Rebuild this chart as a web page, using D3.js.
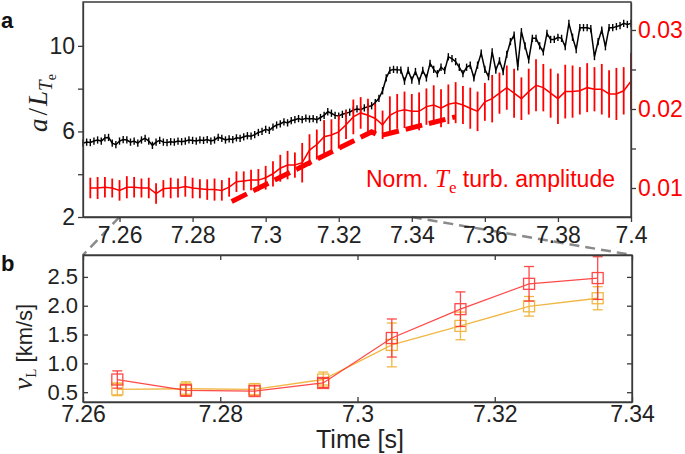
<!DOCTYPE html>
<html><head><meta charset="utf-8">
<script src="https://cdn.jsdelivr.net/npm/d3@7"></script>
<style>body{margin:0;background:#fff}svg{display:block}</style>
</head><body>
<svg id="c" width="685" height="454"></svg>
<script>
// ---------- data ----------
// panel a: black a/L_Te sampled every 1 ms from 7.250 s
const blackStart = 7.250, blackStep = 0.001;
const blackVals = [5.45,5.5,5.48,5.55,5.6,5.55,5.7,5.72,5.45,5.38,5.55,5.62,5.6,5.5,5.55,5.45,5.6,5.68,5.55,5.35,
5.5,5.58,5.5,5.48,5.52,5.5,5.55,5.52,5.55,5.6,5.58,5.55,5.6,5.58,5.62,5.55,5.6,5.72,5.68,5.6,
5.65,5.62,5.7,5.68,5.75,5.8,5.78,5.85,5.95,6.0,6.1,6.05,6.2,6.3,6.35,6.45,6.4,6.5,6.55,6.6,
6.55,6.62,6.58,6.6,6.55,6.65,6.75,6.92,6.85,6.75,6.72,6.8,6.85,6.9,7.0,7.05,7.02,7.1,7.15,7.2,
7.35,7.55,7.9,8.5,8.85,8.9,8.88,8.87,8.35,8.85,8.4,8.8,8.35,8.85,8.5,9.18,8.9,8.7,9.0,8.85,
9.49,9.4,9.26,9.0,8.7,9.0,9.1,8.5,9.1,9.66,8.9,8.56,9.72,8.87,9.3,8.8,9.6,10.2,10.5,9.02,
10.66,10.0,9.34,10.35,10.35,10.0,9.72,10.58,10.3,10.3,10.4,10.35,9.96,11.05,10.4,9.83,10.85,10.85,10.85,10.8,
9.5,10.2,10.74,9.96,10.85,10.85,10.9,10.95,11.05,11.0,11.05];
const blackErr = 0.17;
// panel a: red normalized Te turbulence amplitude every 2 ms from 7.252 s
const redStart = 7.252, redStep = 0.002;
const redVals = [0.0100,0.0100,0.0101,0.0100,0.0097,0.0101,0.0101,0.0100,0.0100,0.0093,0.0099,0.0100,0.0100,0.0102,0.0100,0.0099,0.0098,0.0098,
0.0097,0.0101,0.0108,0.0109,0.0110,0.0110,0.0113,0.0118,0.0125,0.0129,0.0129,0.0132,
0.0148,0.0155,0.0165,0.0167,0.0171,0.0180,0.0190,0.0195,0.0192,0.0188,0.0180,0.0192,0.0197,0.0199,0.0197,
0.0197,0.0203,0.0205,0.0201,0.0206,0.0208,0.0205,0.0201,0.0197,0.0209,0.0213,0.0220,0.0227,0.0220,0.0213,
0.0222,0.0230,0.0227,0.0220,0.0213,0.0222,0.0222,0.0223,0.0227,0.0225,0.0225,0.0219,0.0219,0.0223,0.0235];
const redErr = [0.0013,0.0014,0.0013,0.0012,0.0013,0.0014,0.0013,0.0012,0.0013,0.0013,0.0011,0.0013,0.0012,0.0013,0.0013,0.0012,0.0013,0.0014,
0.0013,0.0012,0.0013,0.0012,0.0013,0.0014,0.0015,0.0016,0.0017,0.0018,0.0016,0.0025,
0.0020,0.0019,0.0021,0.0020,0.0021,0.0018,0.0022,0.0020,0.0021,0.0019,0.0018,0.0024,0.0022,0.0023,0.0022,
0.0024,0.0023,0.0025,0.0024,0.0025,0.0026,0.0024,0.0026,0.0025,0.0024,0.0030,0.0026,0.0028,0.0031,0.0027,
0.0029,0.0033,0.0030,0.0031,0.0032,0.0034,0.0033,0.0030,0.0031,0.0028,0.0032,0.0030,0.0033,0.0030,0.0036];
// thick dashed trend line (right axis)
const trendT = [7.2907, 7.3290, 7.3312, 7.3519];
const trendV = [0.0083, 0.0171, 0.0166, 0.0190];

// panel a ticks
const aXTicks = [7.26,7.28,7.3,7.32,7.34,7.36,7.38,7.4];
const aLTicks = [2,4,6,8,10];
const aLLabels = [2,6,10];
const aRTicks = [0.01,0.015,0.02,0.025,0.03];
const aRLabels = [0.01,0.02,0.03];

// panel b
const bTimes = [7.265,7.275,7.285,7.295,7.305,7.315,7.325,7.335];
const bRed = [0.72,0.53,0.52,0.66,1.44,1.94,2.38,2.48];
const bRedErr = [0.15,0.10,0.09,0.08,0.33,0.30,0.30,0.37];
const bOrange = [0.55,0.56,0.55,0.72,1.32,1.65,1.99,2.13];
const bOrangeErr = [0.11,0.12,0.10,0.13,0.38,0.24,0.17,0.20];
const bXTicks = [7.26,7.28,7.3,7.32,7.34];
const bYTicks = [0.5,1.0,1.5,2.0,2.5];

// ---------- drawing ----------
const svg = d3.select("#c");
const SANS = "'Liberation Sans', Arial, sans-serif";
const SERIF = "'Liberation Serif', 'Times New Roman', serif";
const AX = "#3a3a3a";

const A = {l:83, r:631, t:2, b:217};
const B = {l:83, r:632, t:255, b:402};

const xA = d3.scaleLinear().domain([7.25, 7.4]).range([A.l, A.r]);
const yL = d3.scaleLinear().domain([2, 12.05]).range([A.b, A.t]);
const yR = d3.scaleLinear().domain([0.00633, 0.03354]).range([A.b, A.t]);
const xB = d3.scaleLinear().domain([7.26, 7.34]).range([B.l, B.r]);
const yB = d3.scaleLinear().domain([0.33, 2.88]).range([B.b, B.t]);

const black = blackVals.map((v,i)=>({t: blackStart + i*blackStep, v}));
const red = redVals.map((v,i)=>({t: redStart + i*redStep, v, e: redErr[i]}));
const trend = trendT.map((t,i)=>({t, v: trendV[i]}));

// connector dashed lines
const conn = svg.append("g").attr("stroke","#8a8a8a").attr("stroke-width",2.5).attr("stroke-dasharray","10,6").attr("fill","none");
conn.append("line").attr("x1", xA(7.26)).attr("y1", A.b).attr("x2", xB(7.26)).attr("y2", B.t);
conn.append("line").attr("x1", xA(7.34)).attr("y1", A.b).attr("x2", xB(7.34)).attr("y2", B.t);

// ----- panel a -----
const gA = svg.append("g");
gA.append("g").attr("stroke","#000").attr("stroke-width",1.4)
  .selectAll("line").data(black).join("line")
  .attr("x1", d=>xA(d.t)).attr("x2", d=>xA(d.t))
  .attr("y1", d=>yL(d.v - blackErr)).attr("y2", d=>yL(d.v + blackErr));
gA.append("path").datum(black).attr("fill","none").attr("stroke","#000").attr("stroke-width",1.5)
  .attr("d", d3.line().x(d=>xA(d.t)).y(d=>yL(d.v)));
gA.append("g").attr("stroke","#ff0000").attr("stroke-width",1.8)
  .selectAll("line").data(red).join("line")
  .attr("x1", d=>xA(d.t)).attr("x2", d=>xA(d.t))
  .attr("y1", d=>yR(d.v - d.e)).attr("y2", d=>yR(d.v + d.e));
gA.append("path").datum(red).attr("fill","none").attr("stroke","#ff0000").attr("stroke-width",1.5)
  .attr("d", d3.line().x(d=>xA(d.t)).y(d=>yR(d.v)));
gA.append("path").datum(trend).attr("fill","none").attr("stroke","#ff0000").attr("stroke-width",5)
  .attr("stroke-dasharray","17,7")
  .attr("d", d3.line().x(d=>xA(d.t)).y(d=>yR(d.v)));

gA.append("path").attr("fill","none").attr("stroke",AX).attr("stroke-width",1.3)
  .attr("d", `M${A.l},${A.b}V${A.t}H${A.r}V${A.b}Z`);

function styleAxis(g, color, size){
  g.select(".domain").attr("stroke", color).attr("stroke-width",1.3);
  g.selectAll(".tick line").attr("stroke", color).attr("stroke-width",1.3);
  g.selectAll(".tick text").attr("fill", color).attr("font-family", SANS).attr("font-size", size);
}
const axAB = gA.append("g").attr("transform",`translate(0,${A.b})`)
  .call(d3.axisBottom(xA).tickValues(aXTicks).tickFormat(d=>String(d)).tickSize(5).tickSizeOuter(0).tickPadding(5));
styleAxis(axAB, AX, 23); axAB.selectAll(".tick text").attr("fill","#222");
const axAL = gA.append("g").attr("transform",`translate(${A.l},0)`)
  .call(d3.axisLeft(yL).tickValues(aLTicks).tickFormat(d=>aLLabels.includes(d)?String(d):"").tickSize(5).tickSizeOuter(0).tickPadding(3));
styleAxis(axAL, AX, 23); axAL.selectAll(".tick text").attr("fill","#222");
const axAR = gA.append("g").attr("transform",`translate(${A.r},0)`)
  .call(d3.axisRight(yR).tickValues(aRTicks).tickFormat(d=>aRLabels.includes(d)?String(d):"").tickSize(5).tickSizeOuter(0).tickPadding(2));
styleAxis(axAR, AX, 23); axAR.selectAll(".tick text").attr("fill","#ff0000");

const ann = gA.append("text").attr("x", 366).attr("y", 187).attr("fill","#ff0000").attr("font-family",SANS).attr("font-size",23);
ann.append("tspan").text("Norm. ");
ann.append("tspan").attr("font-family",SERIF).attr("font-style","italic").attr("font-size",25).text("T");
ann.append("tspan").attr("font-family",SERIF).attr("font-size",17).attr("dy",6).text("e");
ann.append("tspan").attr("dy",-6).text(" turb. amplitude");

const yla = svg.append("text").attr("transform","translate(47,103) rotate(-90)").attr("text-anchor","middle")
  .attr("font-family",SERIF).attr("font-size",27).attr("fill","#222");
yla.append("tspan").attr("font-style","italic").text("a");
yla.append("tspan").attr("dx",3).text("/");
yla.append("tspan").attr("dx",2).attr("font-style","italic").text("L");
yla.append("tspan").attr("dy",5).attr("font-size",19).attr("font-style","italic").text("T");
yla.append("tspan").attr("dy",4).attr("font-size",14).text("e");

// ----- panel b -----
const gB = svg.append("g");
gB.append("rect").attr("x",B.l).attr("y",B.t).attr("width",B.r-B.l).attr("height",B.b-B.t).attr("fill","#fff");

function drawSeries(vals, errs, color, opacity){
  const d = bTimes.map((t,i)=>({t, v: vals[i], e: errs[i]}));
  const g = gB.append("g").attr("stroke", color).attr("fill","none").attr("stroke-width",1.3).attr("opacity", opacity);
  g.append("path").datum(d).attr("d", d3.line().x(p=>xB(p.t)).y(p=>yB(p.v)));
  const eb = g.selectAll("g.eb").data(d).join("g");
  eb.append("line").attr("x1",p=>xB(p.t)).attr("x2",p=>xB(p.t)).attr("y1",p=>yB(p.v-p.e)).attr("y2",p=>yB(p.v+p.e));
  eb.append("line").attr("x1",p=>xB(p.t)-5).attr("x2",p=>xB(p.t)+5).attr("y1",p=>yB(p.v-p.e)).attr("y2",p=>yB(p.v-p.e));
  eb.append("line").attr("x1",p=>xB(p.t)-5).attr("x2",p=>xB(p.t)+5).attr("y1",p=>yB(p.v+p.e)).attr("y2",p=>yB(p.v+p.e));
  eb.append("rect").attr("x",p=>xB(p.t)-5.5).attr("y",p=>yB(p.v)-5.5).attr("width",11).attr("height",11);
}
drawSeries(bOrange, bOrangeErr, "#f0b030", 0.9);
drawSeries(bRed, bRedErr, "#ff2a2a", 0.85);

gB.append("rect").attr("x",B.l).attr("y",B.t).attr("width",B.r-B.l).attr("height",B.b-B.t)
  .attr("fill","none").attr("stroke",AX).attr("stroke-width",1.3);

const axBB = gB.append("g").attr("transform",`translate(0,${B.b})`)
  .call(d3.axisBottom(xB).tickValues(bXTicks).tickFormat(d=>String(d)).tickSizeInner(-5).tickSizeOuter(0).tickPadding(4));
styleAxis(axBB, AX, 23); axBB.selectAll(".tick text").attr("fill","#222");
const axBT = gB.append("g").attr("transform",`translate(0,${B.t})`)
  .call(d3.axisTop(xB).tickValues(bXTicks).tickFormat("").tickSizeInner(-5).tickSizeOuter(0));
styleAxis(axBT, AX, 23);
const axBL = gB.append("g").attr("transform",`translate(${B.l},0)`)
  .call(d3.axisLeft(yB).tickValues(bYTicks).tickFormat(d3.format(".1f")).tickSizeInner(-5).tickSizeOuter(0).tickPadding(5));
styleAxis(axBL, AX, 22); axBL.selectAll(".tick text").attr("fill","#222");
const axBR = gB.append("g").attr("transform",`translate(${B.r},0)`)
  .call(d3.axisRight(yB).tickValues(bYTicks).tickFormat("").tickSizeInner(-5).tickSizeOuter(0));
styleAxis(axBR, AX, 22);

const ylb = svg.append("text").attr("transform","translate(32,347) rotate(-90)").attr("text-anchor","middle")
  .attr("font-family",SANS).attr("font-size",22).attr("fill","#222");
ylb.append("tspan").attr("font-family",SERIF).attr("font-style","italic").attr("font-size",28).text("v");
ylb.append("tspan").attr("font-family",SERIF).attr("font-size",15).attr("dy",4).text("L");
ylb.append("tspan").attr("dy",-4).text(" [km/s]");

svg.append("text").attr("x",360).attr("y",448).attr("text-anchor","middle").attr("font-family",SANS)
  .attr("font-size",25).attr("fill","#222").text("Time [s]");

svg.append("text").attr("x",1).attr("y",28).attr("font-family",SANS).attr("font-weight","bold").attr("font-size",22).attr("fill","#111").text("a");
svg.append("text").attr("x",1).attr("y",271).attr("font-family",SANS).attr("font-weight","bold").attr("font-size",22).attr("fill","#111").text("b");
</script>
</body></html>
